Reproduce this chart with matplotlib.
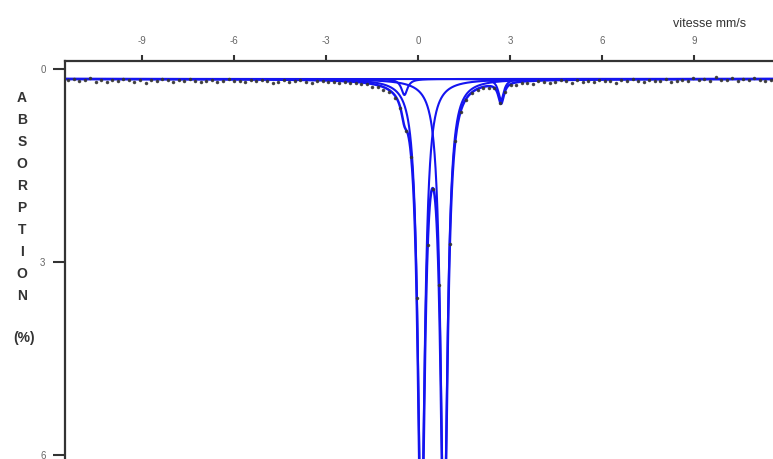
"""Mossbauer spectrum: measured absorption and fitted Lorentzian components."""

import numpy as np
import matplotlib

matplotlib.use("Agg")
import matplotlib.pyplot as plt

# fitted lines: centre (mm/s), half width (mm/s), depth (%)
centres = [0.11, 0.85, -0.44, 2.71]
half_widths = [0.135, 0.135, 0.12, 0.11]
depths = [7.2, 7.2, 0.25, 0.33]
baseline = 0.155

residuals = [
    0.02, 0.00, 0.03, 0.01, -0.01, 0.04, 0.02, 0.05, 0.01, 0.03, 0.00, 0.02, 0.04, 0.01, 0.06, 0.02,
    0.03, -0.01, 0.02, 0.04, 0.01, 0.03, 0.00, 0.02, 0.05, 0.02, 0.01, 0.04, 0.02, -0.01, 0.03, 0.02,
    0.04, 0.01, 0.03, 0.00, 0.02, 0.05, 0.03, 0.01, 0.04, 0.02, 0.00, 0.03, 0.05, 0.02, 0.01, 0.03,
    0.02, 0.03, 0.01, 0.02, 0.01, 0.03, 0.02, 0.04, 0.02, 0.05, 0.03, 0.04, 0.02, 0.03, 0.02, 0.01,
    0.02, 0.03, 0.01, 0.02, 0.01, 0.03, 0.02, 0.02, 0.03, 0.01, 0.02, 0.02, 0.03, 0.00, 0.03, 0.02,
    0.01, 0.04, 0.02, 0.03, 0.05, 0.01, 0.02, 0.04, 0.03, 0.00, 0.02, 0.05, 0.01, 0.03, 0.02, 0.04,
    0.00, 0.03, 0.02, 0.05, 0.01, 0.03, -0.01, 0.02, 0.04, 0.01, 0.03, 0.02, 0.00, 0.04, 0.02, 0.01,
    0.03, -0.02, 0.02, 0.00, 0.03, -0.03, 0.01, 0.02, -0.01, 0.03, 0.00, 0.02, -0.02, 0.01, 0.03, 0.02,
]
v_first, v_last = -11.4, 11.5

x_ticks = [-9, -6, -3, 0, 3, 6, 9]
y_ticks = [0, 3, 6]
y_letters = ["A", "B", "S", "O", "R", "P", "T", "I", "O", "N"]

FONT = ["Liberation Sans Narrow", "Liberation Sans", "DejaVu Sans"]


def lorentz(v, c, g, a):
    return a / (1.0 + ((v - c) / g) ** 2)


v_fit = np.linspace(-11.6, 11.7, 3000)
comps = [lorentz(v_fit, c, g, a) for c, g, a in zip(centres, half_widths, depths)]
total = baseline + np.sum(comps, axis=0)

v_ch = np.linspace(v_first, v_last, len(residuals))
model_ch = baseline + sum(lorentz(v_ch, c, g, a) for c, g, a in zip(centres, half_widths, depths))
data = model_ch + np.array(residuals)

fig = plt.figure(figsize=(7.73, 4.59), dpi=100)
ax = fig.add_axes([65 / 773, 0.0, 1 - 65 / 773, 1 - 61 / 459])
ax.set_xlim(-11.5, 11.57)
ax.set_ylim(6.065, -0.124)

blue = "#1414f0"
for comp in comps:
    ax.plot(v_fit, baseline + comp, color=blue, lw=1.5)
ax.plot(v_fit, total, color=blue, lw=1.8)
ax.plot(v_ch, data, ls="none", color="#333333", marker=".", ms=3, alpha=0.85)

ax.xaxis.tick_top()
ax.set_xticks(x_ticks)
ax.set_xticklabels([str(t) for t in x_ticks], family=FONT)
ax.set_yticks(y_ticks)
ax.set_yticklabels([str(t) for t in y_ticks], family=FONT)
ax.tick_params(axis="x", direction="out", length=4.5, width=1.5, pad=6,
               labelsize=7, labelcolor="#666666", color="#333333")
ax.tick_params(axis="y", direction="out", length=9, width=1.5, pad=5,
               labelsize=7, labelcolor="#666666", color="#333333")
for side in ("bottom", "right"):
    ax.spines[side].set_visible(False)
for side in ("top", "left"):
    ax.spines[side].set_linewidth(1.6)
    ax.spines[side].set_color("#333333")

fig.text(710 / 773, 1 - 24 / 459, "vitesse mm/s", ha="center", va="center",
         fontsize=9, color="#333333", family=FONT)
for i, ch in enumerate(y_letters):
    fig.text(22 / 773, 1 - (98 + i * 22) / 459, ch, ha="center", va="center",
             fontsize=10, color="#333333", family=FONT, fontweight="bold")
fig.text(24 / 773, 1 - 338 / 459, "(%)", ha="center", va="center",
         fontsize=10, color="#333333", family=FONT, fontweight="bold")

fig.savefig("out.png", dpi=100)
